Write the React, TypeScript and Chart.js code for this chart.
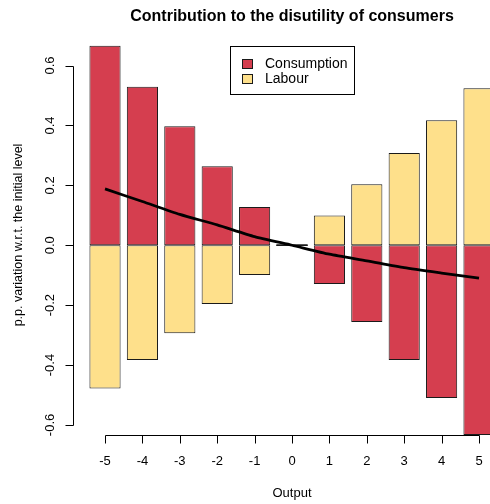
import React, { useEffect, useRef } from 'react';
import { Chart, registerables } from 'chart.js';

Chart.register(...registerables);

const TITLE = 'Contribution to the disutility of consumers';
const X_TITLE = 'Output';
const Y_TITLE = 'p.p. variation w.r.t. the initial level';
const SERIES_NAMES = ['Consumption', 'Labour'];

const CATEGORIES = [-5, -4, -3, -2, -1, 0, 1, 2, 3, 4, 5];
const CONSUMPTION = [0.666, 0.529, 0.397, 0.264, 0.128, 0, -0.129, -0.256, -0.383, -0.51, -0.634];
const LABOUR = [-0.478, -0.383, -0.294, -0.196, -0.099, 0, 0.099, 0.204, 0.308, 0.417, 0.524];
const TOTAL = [0.188, 0.146, 0.103, 0.068, 0.029, 0, -0.03, -0.052, -0.075, -0.093, -0.11];

const Y_TICKS = [-0.6, -0.4, -0.2, 0, 0.2, 0.4, 0.6];
const Y_TICK_LABELS = ['-0.6', '-0.4', '-0.2', '0.0', '0.2', '0.4', '0.6'];
const X_TICK_LABELS = ['-5', '-4', '-3', '-2', '-1', '0', '1', '2', '3', '4', '5'];

const RED = '#D53E4F';
const YELLOW = '#FEE08B';
const BORDER = '#1a1a1a';
const FONT = '"Liberation Sans", Arial, sans-serif';

const rStyle = {
  id: 'rStyle',
  beforeDatasetDraw(chart: any, args: any) {
    if (args.index !== 2) return;
    const ctx = chart.ctx;
    ctx.save();
    ctx.strokeStyle = BORDER;
    ctx.lineWidth = 1.5;
    [0, 1].forEach((di) => {
      const meta = chart.getDatasetMeta(di);
      const ds = chart.data.datasets[di].data as any[];
      meta.data.forEach((el: any, i: number) => {
        if (ds[i].y === 0) {
          ctx.beginPath();
          ctx.moveTo(el.x - el.width / 2, el.y);
          ctx.lineTo(el.x + el.width / 2, el.y);
          ctx.stroke();
        }
      });
    });
    ctx.restore();
  },
  afterDraw(chart: any) {
    const ctx = chart.ctx;
    const xs = chart.scales.x;
    const ys = chart.scales.y;
    const area = chart.chartArea;
    ctx.save();
    ctx.strokeStyle = '#000';
    ctx.fillStyle = '#000';
    ctx.lineWidth = 1;

    // y axis
    const ax = Math.round(area.left) + 0.5;
    const yTop = ys.getPixelForValue(Y_TICKS[Y_TICKS.length - 1]);
    const yBot = ys.getPixelForValue(Y_TICKS[0]);
    ctx.beginPath();
    ctx.moveTo(ax, Math.round(yTop) + 0.5);
    ctx.lineTo(ax, Math.round(yBot) + 0.5);
    Y_TICKS.forEach((v) => {
      const py = Math.round(ys.getPixelForValue(v)) + 0.5;
      ctx.moveTo(ax - 8, py);
      ctx.lineTo(ax, py);
    });
    ctx.stroke();
    ctx.font = `13px ${FONT}`;
    ctx.textAlign = 'center';
    ctx.textBaseline = 'alphabetic';
    Y_TICKS.forEach((v, i) => {
      const py = ys.getPixelForValue(v);
      ctx.save();
      ctx.translate(ax - 20, py);
      ctx.rotate(-Math.PI / 2);
      ctx.fillText(Y_TICK_LABELS[i], 0, 0);
      ctx.restore();
    });

    // x axis
    const by = Math.round(area.bottom) + 0.5;
    const xL = xs.getPixelForValue(CATEGORIES[0]);
    const xR = xs.getPixelForValue(CATEGORIES[CATEGORIES.length - 1]);
    ctx.beginPath();
    ctx.moveTo(Math.round(xL) + 0.5, by);
    ctx.lineTo(Math.round(xR) + 0.5, by);
    CATEGORIES.forEach((c) => {
      const px = Math.round(xs.getPixelForValue(c)) + 0.5;
      ctx.moveTo(px, by);
      ctx.lineTo(px, by + 8);
    });
    ctx.stroke();
    CATEGORIES.forEach((c, i) => {
      ctx.fillText(X_TICK_LABELS[i], xs.getPixelForValue(c), area.bottom + 30);
    });

    // axis titles
    const cx = xs.getPixelForValue(0);
    ctx.fillText(X_TITLE, cx, area.bottom + 62);
    ctx.save();
    ctx.font = `12.5px ${FONT}`;
    ctx.translate(22, 235);
    ctx.rotate(-Math.PI / 2);
    ctx.fillText(Y_TITLE, 0, 0);
    ctx.restore();

    // title
    ctx.font = `bold 16px ${FONT}`;
    ctx.fillText(TITLE, cx, 21);

    // legend
    const lx = 230.5, ly = 46.5, lw = 124, lh = 48;
    ctx.fillStyle = '#fff';
    ctx.fillRect(lx, ly, lw, lh);
    ctx.strokeStyle = '#000';
    ctx.strokeRect(lx, ly, lw, lh);
    ctx.font = `14px ${FONT}`;
    ctx.textAlign = 'left';
    ctx.textBaseline = 'middle';
    const colors = [RED, YELLOW];
    SERIES_NAMES.forEach((name, i) => {
      const cy = 64 + i * 15;
      ctx.fillStyle = colors[i];
      ctx.fillRect(242.5, cy - 4.5, 10, 9);
      ctx.strokeStyle = BORDER;
      ctx.strokeRect(242.5, cy - 4.5, 10, 9);
      ctx.fillStyle = '#000';
      ctx.fillText(name, 265, cy);
    });
    ctx.restore();
  },
};

export default function App() {
  const ref = useRef<HTMLCanvasElement | null>(null);
  useEffect(() => {
    document.body.style.margin = '0';
    const canvas = ref.current!;
    const pts = (arr: number[]) => CATEGORIES.map((c, i) => ({ x: c, y: arr[i] }));
    const chart = new Chart(canvas, {
      type: 'bar',
      data: {
        datasets: [
          {
            type: 'bar',
            label: SERIES_NAMES[0],
            data: pts(CONSUMPTION),
            backgroundColor: RED,
            borderColor: BORDER,
            borderWidth: 1,
            borderSkipped: false,
            stack: 'a',
            order: 2,
            barPercentage: 0.833,
            categoryPercentage: 1,
            clip: false as any,
          },
          {
            type: 'bar',
            label: SERIES_NAMES[1],
            data: pts(LABOUR),
            backgroundColor: YELLOW,
            borderColor: BORDER,
            borderWidth: 1,
            borderSkipped: false,
            stack: 'a',
            order: 2,
            barPercentage: 0.833,
            categoryPercentage: 1,
            clip: false as any,
          },
          {
            type: 'line',
            label: 'Total',
            data: pts(TOTAL),
            borderColor: '#000',
            borderWidth: 2.8,
            pointRadius: 0,
            tension: 0.2,
            fill: false,
            stack: 'b',
            order: 1,
          } as any,
        ],
      },
      options: {
        responsive: false,
        animation: false,
        layout: { padding: { left: 73, right: 0, top: 44, bottom: 69 } },
        plugins: { legend: { display: false }, tooltip: { enabled: false }, title: { display: false } },
        scales: {
          x: {
            type: 'linear',
            display: false,
            stacked: true,
            offset: false,
            min: -5.856,
            max: 5.294,
            afterBuildTicks: (s: any) => {
              s.ticks = CATEGORIES.map((v) => ({ value: v }));
            },
          },
          y: {
            type: 'linear',
            display: false,
            stacked: true,
            min: -0.6336,
            max: 0.672,
            afterBuildTicks: (s: any) => {
              s.ticks = Y_TICKS.map((v) => ({ value: v }));
            },
          },
        },
      },
      plugins: [rStyle],
    });
    return () => chart.destroy();
  }, []);
  return (
    <div style={{ position: 'fixed', left: 0, top: 0, width: 490, height: 504, background: '#fff' }}>
      <canvas ref={ref} width={490} height={504} style={{ display: 'block' }} />
    </div>
  );
}
